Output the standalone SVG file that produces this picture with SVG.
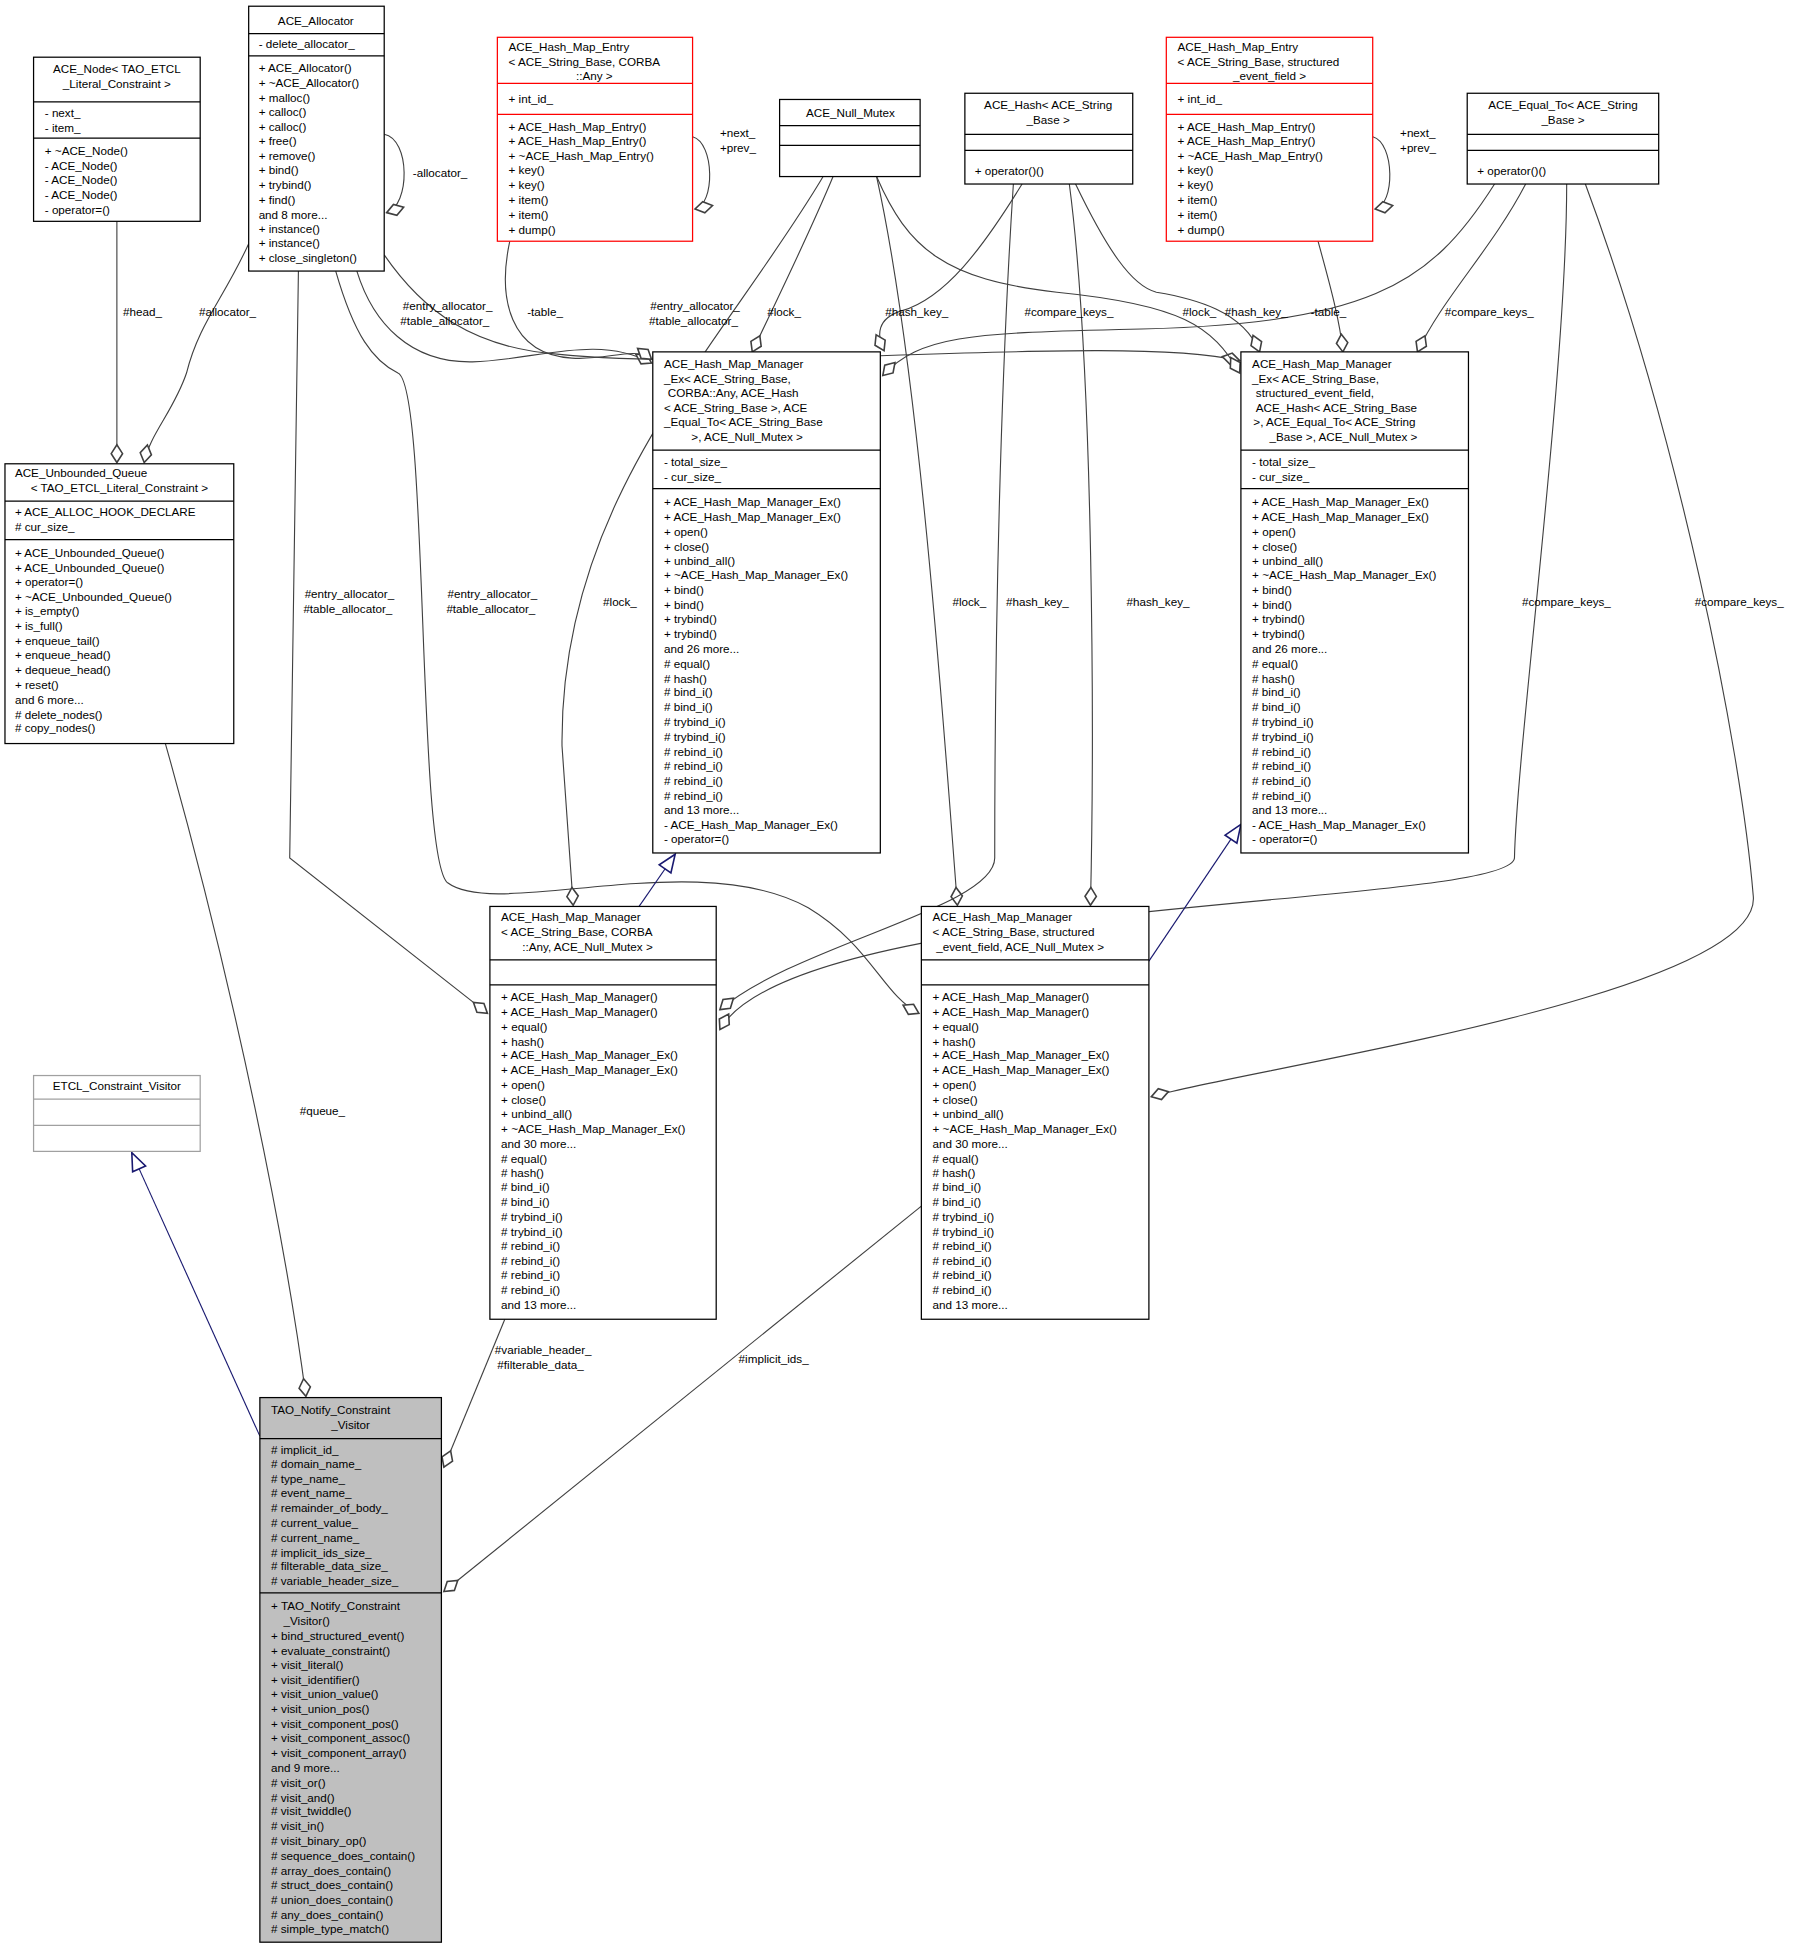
<svg xmlns="http://www.w3.org/2000/svg" width="1803" height="1952" viewBox="0 0 1803 1952">
<style>
text{font-family:"Liberation Sans",Arial,sans-serif;font-size:9.4px;fill:#000}
.m{text-anchor:middle}
.b{fill:#fff;stroke:#000;stroke-width:1}
.r{fill:#fff;stroke:#ff0000;stroke-width:1}
.g{fill:#fff;stroke:#a0a0a0;stroke-width:1}
.s{stroke:#000;stroke-width:1}
.sr{stroke:#ff0000;stroke-width:1}
.sg{stroke:#a0a0a0;stroke-width:1}
.e{fill:none;stroke:#404040;stroke-width:0.9;marker-end:url(#dia)}
.i{fill:none;stroke:#191970;stroke-width:0.9;marker-end:url(#tri)}
</style>
<defs>
<marker id="dia" markerUnits="userSpaceOnUse" markerWidth="20" markerHeight="20" refX="0" refY="0" viewBox="-12 -6 14 12" orient="auto" overflow="visible"><path d="M0,0 L-5,-3.2 L-10,0 L-5,3.2 Z" fill="#fff" stroke="#404040" stroke-width="0.9"/></marker>
<marker id="tri" markerUnits="userSpaceOnUse" markerWidth="20" markerHeight="20" refX="0" refY="0" viewBox="-12 -6 14 12" orient="auto" overflow="visible"><path d="M0,0 L-10,-4 L-10,4 Z" fill="#fff" stroke="#191970" stroke-width="0.9"/></marker>
</defs>
<rect width="1803" height="1952" fill="#fff"/>
<g transform="scale(1.2434)">
<g id="connectors">
<path class="e" d="M94,178 L94,372"/>
<path class="e" d="M200,196 C180,240 160,260 150,300 C140,330 120,350 116,372"/>
<path class="e" d="M309,108 C330,112 330,165 311,171"/>
<path class="e" d="M557,110 C575,115 575,165 559,168"/>
<path class="e" d="M1104,110 C1122,115 1122,165 1106,168"/>
<path class="e" d="M287,218 C300,260 330,292 380,291 C430,290 480,268 524,292"/>
<path class="e" d="M309,205 C340,250 380,280 450,285 C600,300 900,268 997,290"/>
<path class="e" d="M410,194 C400,240 410,285 460,288 C490,290 510,278 524,289"/>
<path class="e" d="M670,142 C650,190 630,230 605,283"/>
<path class="e" d="M822,148 C790,200 760,240 725,250 C705,256 705,270 711,282"/>
<path class="e" d="M1202,148 C1150,230 1100,262 900,265 C780,268 740,270 710,302"/>
<path class="e" d="M705,142 C730,200 760,225 850,235 C950,245 975,262 997,300"/>
<path class="e" d="M865,148 C890,200 910,230 930,235 C960,240 1000,250 1013,283"/>
<path class="e" d="M1060,194 C1070,230 1078,260 1080,283"/>
<path class="e" d="M1227,148 C1200,200 1160,240 1140,283"/>
<path class="e" d="M240,218 L233,690 L392,815"/>
<path class="e" d="M270,218 C285,270 300,290 320,300 C345,310 335,690 360,710 C400,740 560,680 650,730 C700,760 710,800 739,815"/>
<path class="e" d="M662,142 C580,280 450,400 452,600 L461,728"/>
<path class="e" d="M705,142 C740,300 760,600 770,728"/>
<path class="e" d="M815,148 C805,300 800,500 800,690 C800,730 640,760 579,812"/>
<path class="e" d="M860,148 C880,300 880,600 877,728"/>
<path class="e" d="M1260,148 C1260,300 1220,600 1218,690 C1215,730 640,720 579,828"/>
<path class="e" d="M1275,148 C1350,350 1400,600 1410,720 C1420,800 1000,860 926,882"/>
<path class="e" d="M133,598 C190,800 230,1000 246,1123"/>
<path class="e" d="M406,1061 L357,1180"/>
<path class="e" d="M741,970 L357,1280"/>
<path class="i" d="M209,1155 L106,927"/>
<path class="i" d="M514,729 L543,687"/>
<path class="i" d="M924,773 L998,663"/>
<text x="99" y="254">#head_</text>
<text x="160" y="254">#allocator_</text>
<text x="332" y="142">-allocator_</text>
<text x="579" y="110">+next_</text>
<text x="579" y="122">+prev_</text>
<text x="1126" y="110">+next_</text>
<text x="1126" y="122">+prev_</text>
<text x="324" y="249">#entry_allocator_</text>
<text x="322" y="261">#table_allocator_</text>
<text x="424" y="254">-table_</text>
<text x="523" y="249">#entry_allocator_</text>
<text x="522" y="261">#table_allocator_</text>
<text x="617" y="254">#lock_</text>
<text x="712" y="254">#hash_key_</text>
<text x="824" y="254">#compare_keys_</text>
<text x="951" y="254">#lock_</text>
<text x="985" y="254">#hash_key_</text>
<text x="1054" y="254">-table_</text>
<text x="1162" y="254">#compare_keys_</text>
<text x="245" y="481">#entry_allocator_</text>
<text x="244" y="493">#table_allocator_</text>
<text x="360" y="481">#entry_allocator_</text>
<text x="359" y="493">#table_allocator_</text>
<text x="485" y="487">#lock_</text>
<text x="766" y="487">#lock_</text>
<text x="809" y="487">#hash_key_</text>
<text x="906" y="487">#hash_key_</text>
<text x="1224" y="487">#compare_keys_</text>
<text x="1363" y="487">#compare_keys_</text>
<text x="241" y="897">#queue_</text>
<text x="398" y="1089">#variable_header_</text>
<text x="400" y="1101">#filterable_data_</text>
<text x="594" y="1096">#implicit_ids_</text>
</g>
<g id="ace_node">
<rect class="b" x="27" y="46" width="134" height="132"/>
<line class="s" x1="27" y1="82" x2="161" y2="82"/><line class="s" x1="27" y1="111" x2="161" y2="111"/>
<text class="m" x="94" y="59">ACE_Node&lt; TAO_ETCL</text><text class="m" x="94" y="71">_Literal_Constraint &gt;</text>
<text x="36" y="94">- next_</text><text x="36" y="106">- item_</text>
<text x="36" y="125">+ ~ACE_Node()</text><text x="36" y="137">- ACE_Node()</text><text x="36" y="148">- ACE_Node()</text><text x="36" y="160">- ACE_Node()</text><text x="36" y="172">- operator=()</text>
</g>
<g id="ace_allocator">
<rect class="b" x="200" y="5" width="109" height="213"/>
<line class="s" x1="200" y1="27" x2="309" y2="27"/><line class="s" x1="200" y1="45" x2="309" y2="45"/>
<text class="m" x="254" y="20">ACE_Allocator</text>
<text x="208" y="39">- delete_allocator_</text>
<text x="208" y="58">+ ACE_Allocator()</text><text x="208" y="70">+ ~ACE_Allocator()</text><text x="208" y="82">+ malloc()</text><text x="208" y="93">+ calloc()</text><text x="208" y="105">+ calloc()</text><text x="208" y="117">+ free()</text><text x="208" y="129">+ remove()</text><text x="208" y="140">+ bind()</text><text x="208" y="152">+ trybind()</text><text x="208" y="164">+ find()</text><text x="208" y="176">and 8 more...</text><text x="208" y="187">+ instance()</text><text x="208" y="199">+ instance()</text><text x="208" y="211">+ close_singleton()</text>
</g>
<g id="entry_corba">
<rect class="r" x="400" y="30" width="157" height="164"/>
<line class="sr" x1="400" y1="67" x2="557" y2="67"/><line class="sr" x1="400" y1="92" x2="557" y2="92"/>
<text x="409" y="41">ACE_Hash_Map_Entry</text><text x="409" y="53">&lt; ACE_String_Base, CORBA</text><text class="m" x="478" y="64">::Any &gt;</text>
<text x="409" y="83">+ int_id_</text>
<text x="409" y="105">+ ACE_Hash_Map_Entry()</text><text x="409" y="117">+ ACE_Hash_Map_Entry()</text><text x="409" y="129">+ ~ACE_Hash_Map_Entry()</text><text x="409" y="140">+ key()</text><text x="409" y="152">+ key()</text><text x="409" y="164">+ item()</text><text x="409" y="176">+ item()</text><text x="409" y="188">+ dump()</text>
</g>
<g id="null_mutex">
<rect class="b" x="627" y="80" width="113" height="62"/>
<line class="s" x1="627" y1="101" x2="740" y2="101"/><line class="s" x1="627" y1="117" x2="740" y2="117"/>
<text class="m" x="684" y="94">ACE_Null_Mutex</text>
</g>
<g id="ace_hash">
<rect class="b" x="776" y="75" width="135" height="73"/>
<line class="s" x1="776" y1="108" x2="911" y2="108"/><line class="s" x1="776" y1="121" x2="911" y2="121"/>
<text class="m" x="843" y="88">ACE_Hash&lt; ACE_String</text><text class="m" x="843" y="100">_Base &gt;</text>
<text x="784" y="141">+ operator()()</text>
</g>
<g id="entry_structured">
<rect class="r" x="938" y="30" width="166" height="164"/>
<line class="sr" x1="938" y1="67" x2="1104" y2="67"/><line class="sr" x1="938" y1="92" x2="1104" y2="92"/>
<text x="947" y="41">ACE_Hash_Map_Entry</text><text x="947" y="53">&lt; ACE_String_Base, structured</text><text class="m" x="1021" y="64">_event_field &gt;</text>
<text x="947" y="83">+ int_id_</text>
<text x="947" y="105">+ ACE_Hash_Map_Entry()</text><text x="947" y="117">+ ACE_Hash_Map_Entry()</text><text x="947" y="129">+ ~ACE_Hash_Map_Entry()</text><text x="947" y="140">+ key()</text><text x="947" y="152">+ key()</text><text x="947" y="164">+ item()</text><text x="947" y="176">+ item()</text><text x="947" y="188">+ dump()</text>
</g>
<g id="ace_equal_to">
<rect class="b" x="1180" y="75" width="154" height="73"/>
<line class="s" x1="1180" y1="108" x2="1334" y2="108"/><line class="s" x1="1180" y1="121" x2="1334" y2="121"/>
<text class="m" x="1257" y="88">ACE_Equal_To&lt; ACE_String</text><text class="m" x="1257" y="100">_Base &gt;</text>
<text x="1188" y="141">+ operator()()</text>
</g>
<g id="unbounded_queue">
<rect class="b" x="4" y="373" width="184" height="225"/>
<line class="s" x1="4" y1="403" x2="188" y2="403"/><line class="s" x1="4" y1="434" x2="188" y2="434"/>
<text x="12" y="384">ACE_Unbounded_Queue</text><text class="m" x="96" y="396">&lt; TAO_ETCL_Literal_Constraint &gt;</text>
<text x="12" y="415">+ ACE_ALLOC_HOOK_DECLARE</text><text x="12" y="427"># cur_size_</text>
<text x="12" y="448">+ ACE_Unbounded_Queue()</text><text x="12" y="460">+ ACE_Unbounded_Queue()</text><text x="12" y="471">+ operator=()</text><text x="12" y="483">+ ~ACE_Unbounded_Queue()</text><text x="12" y="495">+ is_empty()</text><text x="12" y="507">+ is_full()</text><text x="12" y="519">+ enqueue_tail()</text><text x="12" y="530">+ enqueue_head()</text><text x="12" y="542">+ dequeue_head()</text><text x="12" y="554">+ reset()</text><text x="12" y="566">and 6 more...</text><text x="12" y="578"># delete_nodes()</text><text x="12" y="589"># copy_nodes()</text>
</g>
<g id="hmm_ex_corba">
<rect class="b" x="525" y="283" width="183" height="403"/>
<line class="s" x1="525" y1="362" x2="708" y2="362"/><line class="s" x1="525" y1="393" x2="708" y2="393"/>
<text x="534" y="296">ACE_Hash_Map_Manager</text><text x="534" y="308">_Ex&lt; ACE_String_Base,</text><text x="537" y="319">CORBA::Any, ACE_Hash</text><text x="534" y="331">&lt; ACE_String_Base &gt;, ACE</text><text x="534" y="343">_Equal_To&lt; ACE_String_Base</text><text x="556" y="355">&gt;, ACE_Null_Mutex &gt;</text>
<text x="534" y="375">- total_size_</text><text x="534" y="387">- cur_size_</text>
<text x="534" y="407">+ ACE_Hash_Map_Manager_Ex()</text><text x="534" y="419">+ ACE_Hash_Map_Manager_Ex()</text><text x="534" y="431">+ open()</text><text x="534" y="443">+ close()</text><text x="534" y="454">+ unbind_all()</text><text x="534" y="466">+ ~ACE_Hash_Map_Manager_Ex()</text><text x="534" y="478">+ bind()</text><text x="534" y="490">+ bind()</text><text x="534" y="501">+ trybind()</text><text x="534" y="513">+ trybind()</text><text x="534" y="525">and 26 more...</text><text x="534" y="537"># equal()</text><text x="534" y="549"># hash()</text><text x="534" y="560"># bind_i()</text><text x="534" y="572"># bind_i()</text><text x="534" y="584"># trybind_i()</text><text x="534" y="596"># trybind_i()</text><text x="534" y="608"># rebind_i()</text><text x="534" y="619"># rebind_i()</text><text x="534" y="631"># rebind_i()</text><text x="534" y="643"># rebind_i()</text><text x="534" y="655">and 13 more...</text><text x="534" y="667">- ACE_Hash_Map_Manager_Ex()</text><text x="534" y="678">- operator=()</text>
</g>
<g id="hmm_ex_structured">
<rect class="b" x="998" y="283" width="183" height="403"/>
<line class="s" x1="998" y1="362" x2="1181" y2="362"/><line class="s" x1="998" y1="393" x2="1181" y2="393"/>
<text x="1007" y="296">ACE_Hash_Map_Manager</text><text x="1007" y="308">_Ex&lt; ACE_String_Base,</text><text x="1010" y="319">structured_event_field,</text><text x="1010" y="331">ACE_Hash&lt; ACE_String_Base</text><text x="1008" y="343">&gt;, ACE_Equal_To&lt; ACE_String</text><text x="1021" y="355">_Base &gt;, ACE_Null_Mutex &gt;</text>
<text x="1007" y="375">- total_size_</text><text x="1007" y="387">- cur_size_</text>
<text x="1007" y="407">+ ACE_Hash_Map_Manager_Ex()</text><text x="1007" y="419">+ ACE_Hash_Map_Manager_Ex()</text><text x="1007" y="431">+ open()</text><text x="1007" y="443">+ close()</text><text x="1007" y="454">+ unbind_all()</text><text x="1007" y="466">+ ~ACE_Hash_Map_Manager_Ex()</text><text x="1007" y="478">+ bind()</text><text x="1007" y="490">+ bind()</text><text x="1007" y="501">+ trybind()</text><text x="1007" y="513">+ trybind()</text><text x="1007" y="525">and 26 more...</text><text x="1007" y="537"># equal()</text><text x="1007" y="549"># hash()</text><text x="1007" y="560"># bind_i()</text><text x="1007" y="572"># bind_i()</text><text x="1007" y="584"># trybind_i()</text><text x="1007" y="596"># trybind_i()</text><text x="1007" y="608"># rebind_i()</text><text x="1007" y="619"># rebind_i()</text><text x="1007" y="631"># rebind_i()</text><text x="1007" y="643"># rebind_i()</text><text x="1007" y="655">and 13 more...</text><text x="1007" y="667">- ACE_Hash_Map_Manager_Ex()</text><text x="1007" y="678">- operator=()</text>
</g>
<g id="etcl_visitor">
<rect class="g" x="27" y="865" width="134" height="61"/>
<line class="sg" x1="27" y1="884" x2="161" y2="884"/><line class="sg" x1="27" y1="905" x2="161" y2="905"/>
<text class="m" x="94" y="877">ETCL_Constraint_Visitor</text>
</g>
<g id="hmm_corba">
<rect class="b" x="394" y="729" width="182" height="332"/>
<line class="s" x1="394" y1="772" x2="576" y2="772"/><line class="s" x1="394" y1="792" x2="576" y2="792"/>
<text x="403" y="741">ACE_Hash_Map_Manager</text><text x="403" y="753">&lt; ACE_String_Base, CORBA</text><text x="420" y="765">::Any, ACE_Null_Mutex &gt;</text>
<text x="403" y="805">+ ACE_Hash_Map_Manager()</text><text x="403" y="817">+ ACE_Hash_Map_Manager()</text><text x="403" y="829">+ equal()</text><text x="403" y="841">+ hash()</text><text x="403" y="852">+ ACE_Hash_Map_Manager_Ex()</text><text x="403" y="864">+ ACE_Hash_Map_Manager_Ex()</text><text x="403" y="876">+ open()</text><text x="403" y="888">+ close()</text><text x="403" y="899">+ unbind_all()</text><text x="403" y="911">+ ~ACE_Hash_Map_Manager_Ex()</text><text x="403" y="923">and 30 more...</text><text x="403" y="935"># equal()</text><text x="403" y="947"># hash()</text><text x="403" y="958"># bind_i()</text><text x="403" y="970"># bind_i()</text><text x="403" y="982"># trybind_i()</text><text x="403" y="994"># trybind_i()</text><text x="403" y="1005"># rebind_i()</text><text x="403" y="1017"># rebind_i()</text><text x="403" y="1029"># rebind_i()</text><text x="403" y="1041"># rebind_i()</text><text x="403" y="1053">and 13 more...</text>
</g>
<g id="hmm_structured">
<rect class="b" x="741" y="729" width="183" height="332"/>
<line class="s" x1="741" y1="772" x2="924" y2="772"/><line class="s" x1="741" y1="792" x2="924" y2="792"/>
<text x="750" y="741">ACE_Hash_Map_Manager</text><text x="750" y="753">&lt; ACE_String_Base, structured</text><text x="753" y="765">_event_field, ACE_Null_Mutex &gt;</text>
<text x="750" y="805">+ ACE_Hash_Map_Manager()</text><text x="750" y="817">+ ACE_Hash_Map_Manager()</text><text x="750" y="829">+ equal()</text><text x="750" y="841">+ hash()</text><text x="750" y="852">+ ACE_Hash_Map_Manager_Ex()</text><text x="750" y="864">+ ACE_Hash_Map_Manager_Ex()</text><text x="750" y="876">+ open()</text><text x="750" y="888">+ close()</text><text x="750" y="899">+ unbind_all()</text><text x="750" y="911">+ ~ACE_Hash_Map_Manager_Ex()</text><text x="750" y="923">and 30 more...</text><text x="750" y="935"># equal()</text><text x="750" y="947"># hash()</text><text x="750" y="958"># bind_i()</text><text x="750" y="970"># bind_i()</text><text x="750" y="982"># trybind_i()</text><text x="750" y="994"># trybind_i()</text><text x="750" y="1005"># rebind_i()</text><text x="750" y="1017"># rebind_i()</text><text x="750" y="1029"># rebind_i()</text><text x="750" y="1041"># rebind_i()</text><text x="750" y="1053">and 13 more...</text>
</g>
<g id="tao_notify_constraint_visitor">
<rect x="209" y="1124" width="146" height="438" fill="#bfbfbf" stroke="#000" stroke-width="1"/>
<line class="s" x1="209" y1="1157" x2="355" y2="1157"/><line class="s" x1="209" y1="1281" x2="355" y2="1281"/>
<text x="218" y="1137">TAO_Notify_Constraint</text><text class="m" x="282" y="1149">_Visitor</text>
<text x="218" y="1169"># implicit_id_</text><text x="218" y="1181"># domain_name_</text><text x="218" y="1193"># type_name_</text><text x="218" y="1204"># event_name_</text><text x="218" y="1216"># remainder_of_body_</text><text x="218" y="1228"># current_value_</text><text x="218" y="1240"># current_name_</text><text x="218" y="1252"># implicit_ids_size_</text><text x="218" y="1263"># filterable_data_size_</text><text x="218" y="1275"># variable_header_size_</text>
<text x="218" y="1295">+ TAO_Notify_Constraint</text><text x="228" y="1307">_Visitor()</text><text x="218" y="1319">+ bind_structured_event()</text><text x="218" y="1331">+ evaluate_constraint()</text><text x="218" y="1342">+ visit_literal()</text><text x="218" y="1354">+ visit_identifier()</text><text x="218" y="1366">+ visit_union_value()</text><text x="218" y="1378">+ visit_union_pos()</text><text x="218" y="1390">+ visit_component_pos()</text><text x="218" y="1401">+ visit_component_assoc()</text><text x="218" y="1413">+ visit_component_array()</text><text x="218" y="1425">and 9 more...</text><text x="218" y="1437"># visit_or()</text><text x="218" y="1449"># visit_and()</text><text x="218" y="1460"># visit_twiddle()</text><text x="218" y="1472"># visit_in()</text><text x="218" y="1484"># visit_binary_op()</text><text x="218" y="1496"># sequence_does_contain()</text><text x="218" y="1508"># array_does_contain()</text><text x="218" y="1519"># struct_does_contain()</text><text x="218" y="1531"># union_does_contain()</text><text x="218" y="1543"># any_does_contain()</text><text x="218" y="1555"># simple_type_match()</text>
</g>
</g>
</svg>
